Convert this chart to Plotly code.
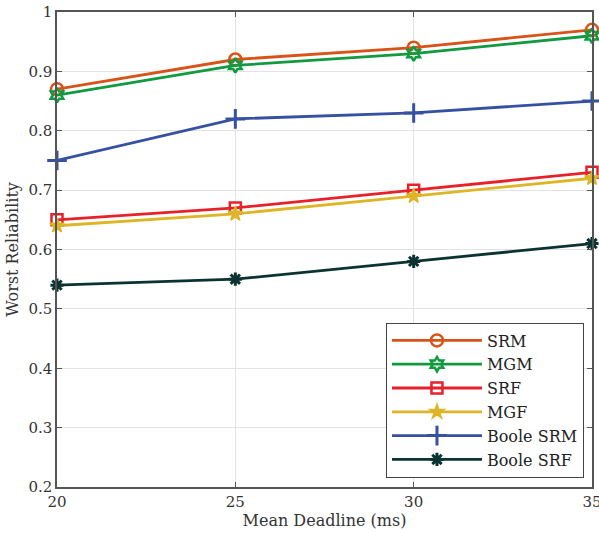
import plotly.graph_objects as go

x_deadline = [20, 25, 30, 35]
srm = [0.87, 0.92, 0.94, 0.97]
mgm = [0.86, 0.91, 0.93, 0.96]
srf = [0.65, 0.67, 0.70, 0.73]
mgf = [0.64, 0.66, 0.69, 0.72]
boole_srm = [0.75, 0.82, 0.83, 0.85]
boole_srf = [0.54, 0.55, 0.58, 0.61]

series = [
    ("SRM", srm, "#D95319", "circle-open", 12, 2.5),
    ("MGM", mgm, "#119A3F", "hexagram-open", 11, 2.5),
    ("SRF", srf, "#E8202A", "square-open", 11, 2.5),
    ("MGF", mgf, "#DDB526", "star", 11, 1.5),
    ("Boole SRM", boole_srm, "#3650A2", "cross-thin-open", 14, 3),
    ("Boole SRF", boole_srf, "#0B3331", "asterisk-open", 11, 3),
]

font_family = "DejaVu Serif, serif"

fig = go.Figure()
for name, ys, color, sym, size, lw in series:
    fig.add_trace(go.Scatter(
        x=x_deadline, y=ys, name=name, mode="lines+markers",
        line=dict(color=color, width=2.8),
        marker=dict(symbol=sym, size=size, color=color,
                    line=dict(color=color, width=lw)),
        cliponaxis=False,
    ))

axis_common = dict(
    showgrid=True, gridcolor="#E3E3E3", gridwidth=1,
    ticks="inside", ticklen=5, tickcolor="#555",
    showline=True, linecolor="#555", linewidth=1.5, mirror="ticks",
    tickfont=dict(family=font_family, size=15, color="#333"),
    zeroline=False, automargin=False, ticklabeloverflow="allow",
)

fig.update_layout(
    width=599, height=533,
    margin=dict(l=57, r=7, t=12, b=46),
    plot_bgcolor="white", paper_bgcolor="white",
    font=dict(family=font_family, color="#333"),
    xaxis=dict(range=[20, 35], tickvals=[20, 25, 30, 35],
               title=dict(text="Mean Deadline (ms)", font=dict(size=16, color="#333"), standoff=4),
               **axis_common),
    yaxis=dict(range=[0.2, 1.0], tickvals=[0.2, 0.3, 0.4, 0.5, 0.6, 0.7, 0.8, 0.9, 1.0],
               ticktext=["0.2", "0.3", "0.4", "0.5", "0.6", "0.7", "0.8", "0.9", "1"],
               title=dict(text="Worst Reliability", font=dict(size=16, color="#333"), standoff=6),
               **axis_common),
    legend=dict(x=0.985, y=0.02, xanchor="right", yanchor="bottom",
                bgcolor="white", bordercolor="#444", borderwidth=1,
                font=dict(family=font_family, size=16, color="#222"),
                tracegroupgap=0, itemwidth=90),
    showlegend=True,
)

fig.write_html("out.html")
